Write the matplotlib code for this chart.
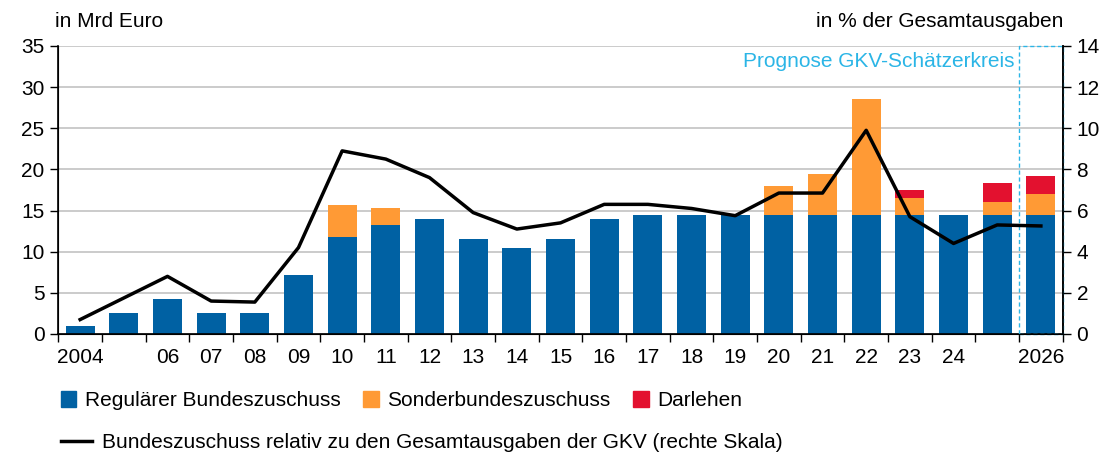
import numpy as np
import matplotlib.pyplot as plt
from matplotlib.patches import Patch, Rectangle
from matplotlib.lines import Line2D

plt.rcParams['font.family'] = ['Liberation Sans', 'DejaVu Sans']

years = ['2004', '', '06', '07', '08', '09', '10', '11', '12', '13', '14', '15',
         '16', '17', '18', '19', '20', '21', '22', '23', '24', '', '2026']
regulaer = [1.0, 2.5, 4.2, 2.5, 2.5, 7.2, 11.8, 13.3, 14.0, 11.5, 10.5, 11.5,
            14.0, 14.5, 14.5, 14.5, 14.5, 14.5, 14.5, 14.5, 14.5, 14.5, 14.5]
sonder = [0, 0, 0, 0, 0, 0, 3.9, 2.0, 0, 0, 0, 0,
          0, 0, 0, 0, 3.5, 5.0, 14.0, 2.0, 0, 1.5, 2.5]
darlehen = [0, 0, 0, 0, 0, 0, 0, 0, 0, 0, 0, 0,
            0, 0, 0, 0, 0, 0, 0, 1.0, 0, 2.3, 2.2]
anteil = [0.7, 1.75, 2.8, 1.6, 1.55, 4.2, 8.9, 8.5, 7.6, 5.9, 5.1, 5.4,
          6.3, 6.3, 6.1, 5.75, 6.85, 6.85, 9.9, 5.7, 4.4, 5.3, 5.25]

BLUE = '#0061a3'
ORANGE = '#ff9a35'
RED = '#e3112f'
CYAN = '#2bb5e6'
FS = 15

x = np.arange(len(years))
reg = np.array(regulaer)
son = np.array(sonder)
dar = np.array(darlehen)

fig = plt.figure(figsize=(11.17, 4.55), dpi=100)
ax = fig.add_axes([0.0522, 0.266, 0.8992, 0.633])

ax.bar(x, reg, width=0.66, color=BLUE, zorder=2)
ax.bar(x, son, width=0.66, bottom=reg, color=ORANGE, zorder=2)
ax.bar(x, dar, width=0.66, bottom=reg + son, color=RED, zorder=2)

ax.set_xlim(-0.5, len(years) - 0.5)
ax.set_ylim(0, 35)
ax.set_yticks(np.arange(0, 36, 5))
ax.yaxis.grid(True, color='#bdbdbd', lw=1.1, zorder=0)
ax.set_axisbelow(True)

# category labels centred, tick marks between the bars
ax.set_xticks(x)
ax.set_xticklabels(years)
ax.set_xticks(np.arange(-0.5, len(years), 1), minor=True)
ax.tick_params(axis='x', which='major', length=0, pad=10, labelsize=FS)
ax.tick_params(axis='x', which='minor', length=6, width=1, direction='out')
ax.tick_params(axis='y', length=6, width=1, labelsize=FS, pad=4)

ax.spines['top'].set_visible(False)
for s in ['left', 'bottom', 'right']:
    ax.spines[s].set_linewidth(1.2)

ax2 = ax.twinx()
ax2.plot(x, anteil, color='black', lw=2.5, zorder=4)
ax2.set_ylim(0, 14)
ax2.set_yticks(np.arange(0, 15, 2))
ax2.tick_params(axis='y', length=6, width=1, labelsize=FS, pad=4)
ax2.spines['top'].set_visible(False)
ax2.spines['right'].set_linewidth(1.2)

# forecast box
ax.add_patch(Rectangle((len(years) - 1.5, 0), 1.0, 35, fill=False,
                       edgecolor=CYAN, lw=1.0, ls=(0, (3, 2)), zorder=3,
                       clip_on=False))
ax.text(len(years) - 1.6, 33.1, 'Prognose GKV-Schätzerkreis', color=CYAN,
        fontsize=FS, ha='right', va='center')

fig.text(0.049, 0.952, 'in Mrd Euro', fontsize=FS, ha='left', va='center')
fig.text(0.952, 0.952, 'in % der Gesamtausgaben', fontsize=FS, ha='right',
         va='center')

handles = [Patch(color=BLUE, label='Regulärer Bundeszuschuss'),
           Patch(color=ORANGE, label='Sonderbundeszuschuss'),
           Patch(color=RED, label='Darlehen')]
fig.legend(handles=handles, loc='center left', bbox_to_anchor=(0.045, 0.119),
           ncol=3, frameon=False, fontsize=FS, handlelength=0.75,
           handleheight=0.75, handletextpad=0.4, columnspacing=1.1,
           borderpad=0)
fig.legend(handles=[Line2D([], [], color='black', lw=2.5,
                           label='Bundeszuschuss relativ zu den Gesamtausgaben '
                                 'der GKV (rechte Skala)')],
           loc='center left', bbox_to_anchor=(0.045, 0.027), frameon=False,
           fontsize=FS, handlelength=1.5, handletextpad=0.5, borderpad=0)

fig.savefig('out.png', dpi=100)
